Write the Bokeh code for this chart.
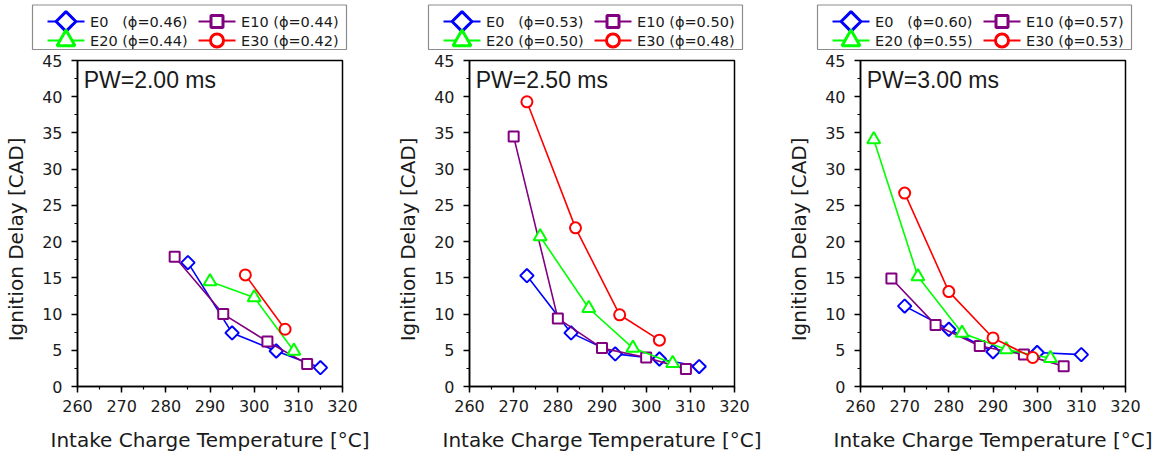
import numpy as np
from bokeh.plotting import figure
from bokeh.layouts import row, column
from bokeh.models import Label, SingleIntervalTicker, Range1d, Spacer
from bokeh.core.properties import value
from bokeh.embed import file_html
from bokeh.resources import INLINE

# ---------------- data ----------------
series_names = ["E0", "E10", "E20", "E30"]
pw_titles = ["PW=2.00 ms", "PW=2.50 ms", "PW=3.00 ms"]

phi_pw200 = ["0.46", "0.44", "0.44", "0.42"]
phi_pw250 = ["0.53", "0.50", "0.50", "0.48"]
phi_pw300 = ["0.60", "0.57", "0.55", "0.53"]

# PW = 2.00 ms
pw200_e0_T = [285, 295, 305, 315]
pw200_e0_D = [17.1, 7.4, 4.9, 2.6]
pw200_e10_T = [282, 293, 303, 312]
pw200_e10_D = [17.9, 10.0, 6.2, 3.1]
pw200_e20_T = [290, 300, 309]
pw200_e20_D = [14.5, 12.3, 4.9]
pw200_e30_T = [298, 307]
pw200_e30_D = [15.4, 7.9]

# PW = 2.50 ms
pw250_e0_T = [273, 283, 293, 303, 312]
pw250_e0_D = [15.3, 7.4, 4.5, 3.8, 2.75]
pw250_e10_T = [270, 280, 290, 300, 309]
pw250_e10_D = [34.5, 9.4, 5.3, 4.0, 2.4]
pw250_e20_T = [276, 287, 297, 306]
pw250_e20_D = [20.7, 10.8, 5.3, 3.2]
pw250_e30_T = [273, 284, 294, 303]
pw250_e30_D = [39.3, 21.9, 9.9, 6.4]

# PW = 3.00 ms
pw300_e0_T = [270, 280, 290, 300, 310]
pw300_e0_D = [11.1, 7.9, 4.8, 4.7, 4.4]
pw300_e10_T = [267, 277, 287, 297, 306]
pw300_e10_D = [14.9, 8.5, 5.6, 4.4, 2.8]
pw300_e20_T = [263, 273, 283, 293, 303]
pw300_e20_D = [34.1, 15.2, 7.4, 5.1, 3.9]
pw300_e30_T = [270, 280, 290, 299]
pw300_e30_D = [26.7, 13.1, 6.7, 4.0]

x_label = "Intake Charge Temperature [°C]"
y_label = "Ignition Delay [CAD]"

# ---------------- styles ----------------
colors = ["#0000FF", "#800080", "#00FF00", "#FF0000"]
markers = ["square", "square", "triangle", "circle"]
angles = [np.pi / 4, 0, 0, 0]
sizes = [9.5, 10, 13, 11]
legend_sizes = [14, 12, 18, 13]

# legend layout (pixels inside the legend strip, measured from panel left)
LEG_H = 51
LEG_BOX_W = 314
LEG_BOX_TOP = LEG_H - 4.5
LEG_BOX_BOTTOM = LEG_H - 49
LEG_ROW_Y = [LEG_H - 21, LEG_H - 40]
LEG_COL_DX = 151
LEG_LINE = (15, 52)
LEG_MARK = 33.5
LEG_TEXT = 57.5
leg_col = [0, 1, 0, 1]
leg_row = [0, 0, 1, 1]
INSET = 2

panels = [
    (pw_titles[0], phi_pw200,
     [(pw200_e0_T, pw200_e0_D), (pw200_e10_T, pw200_e10_D),
      (pw200_e20_T, pw200_e20_D), (pw200_e30_T, pw200_e30_D)],
     388, 77, 32),
    (pw_titles[1], phi_pw250,
     [(pw250_e0_T, pw250_e0_D), (pw250_e10_T, pw250_e10_D),
      (pw250_e20_T, pw250_e20_D), (pw250_e30_T, pw250_e30_D)],
     387, 81, 40),
    (pw_titles[2], phi_pw300,
     [(pw300_e0_T, pw300_e0_D), (pw300_e10_T, pw300_e10_D),
      (pw300_e20_T, pw300_e20_D), (pw300_e30_T, pw300_e30_D)],
     385, 85, 42),
]

FRAME_W = 265
figs = []
for title, phis, data, width, left, box_x in panels:
    # ----- legend strip (pixel coordinates) -----
    lf = figure(width=width - 2 * INSET, height=LEG_H,
                x_range=Range1d(INSET, width - INSET), y_range=Range1d(0, LEG_H),
                output_backend="svg", toolbar_location=None,
                x_axis_location=None, y_axis_location=None, min_border=0)
    lf.grid.visible = False
    lf.outline_line_color = None
    lf.background_fill_color = "white"
    lf.border_fill_color = "white"
    lf.quad(left=[box_x], right=[box_x + LEG_BOX_W], bottom=[LEG_BOX_BOTTOM],
            top=[LEG_BOX_TOP], fill_color="white", line_color="#8c8c8c",
            line_width=1.2)

    # ----- main plot -----
    p = figure(width=width, height=456 - LEG_H, x_range=(260, 320), y_range=(0, 45),
               output_backend="svg", toolbar_location=None,
               min_border_left=left, min_border_right=width - left - FRAME_W,
               min_border_top=60 - LEG_H, min_border_bottom=70)
    p.grid.visible = False
    p.background_fill_color = "white"
    p.border_fill_color = "white"
    p.outline_line_color = "black"
    p.outline_line_width = 1.5
    p.outline_line_alpha = 1.0

    p.xaxis.ticker = SingleIntervalTicker(interval=10, num_minor_ticks=2)
    p.yaxis.ticker = SingleIntervalTicker(interval=5, num_minor_ticks=2)
    for ax in (p.xaxis[0], p.yaxis[0]):
        ax.axis_line_color = "black"
        ax.axis_line_width = 1.5
        ax.major_tick_line_color = "black"
        ax.major_tick_line_width = 1.5
        ax.minor_tick_line_color = "black"
        ax.minor_tick_line_width = 1.2
        ax.major_tick_out = 6
        ax.major_tick_in = 0
        ax.minor_tick_out = 3
        ax.minor_tick_in = 0
        ax.major_label_text_font = "DejaVu Sans"
        ax.major_label_text_font_size = "16px"
        ax.major_label_text_color = "#1a1a1a"
        ax.axis_label_text_font = "DejaVu Sans"
        ax.axis_label_text_font_size = "20px"
        ax.axis_label_text_font_style = "normal"
        ax.axis_label_text_color = "#1a1a1a"
    p.xaxis.axis_label = x_label
    p.yaxis.axis_label = y_label + "\u00a0" * 5
    p.xaxis.major_label_standoff = 7
    p.xaxis.axis_label_standoff = 13
    p.yaxis.major_label_standoff = 9
    p.yaxis.axis_label_standoff = 11

    for i, (T, D) in enumerate(data):
        p.line(T, D, line_color=colors[i], line_width=1.6)
        p.scatter(T, D, marker=markers[i], size=sizes[i], angle=angles[i],
                  line_color=colors[i], line_width=2, fill_color="white")

        # legend entry
        name = series_names[i]
        if name == "E0":
            lab = "E0\u00a0\u00a0 (\u03d5=%s)" % phis[i]
        else:
            lab = "%s (\u03d5=%s)" % (name, phis[i])
        cx = box_x + leg_col[i] * LEG_COL_DX
        ry = LEG_ROW_Y[leg_row[i]]
        lf.segment(x0=[cx + LEG_LINE[0]], x1=[cx + LEG_LINE[1]], y0=[ry], y1=[ry],
                   line_color=colors[i], line_width=2)
        lf.scatter([cx + LEG_MARK], [ry], marker=markers[i], size=legend_sizes[i],
                   angle=angles[i], line_color=colors[i], line_width=3,
                   fill_color="white")
        lf.text([cx + LEG_TEXT], [ry], text=[lab], text_baseline="middle",
                text_align="left", text_font=value("DejaVu Sans"),
                text_font_size="14.5px", text_color="#1a1a1a")

    p.add_layout(Label(x=261.4, y=42.3, text=title, text_baseline="middle",
                       text_font="Liberation Sans", text_font_size="23px",
                       text_color="#1a1a1a"))
    strip = row(Spacer(width=INSET, height=LEG_H), lf, spacing=0)
    figs.append(column(strip, p, spacing=0))

layout = row(*figs, spacing=0)
open("out.html", "w").write(file_html(layout, INLINE))
